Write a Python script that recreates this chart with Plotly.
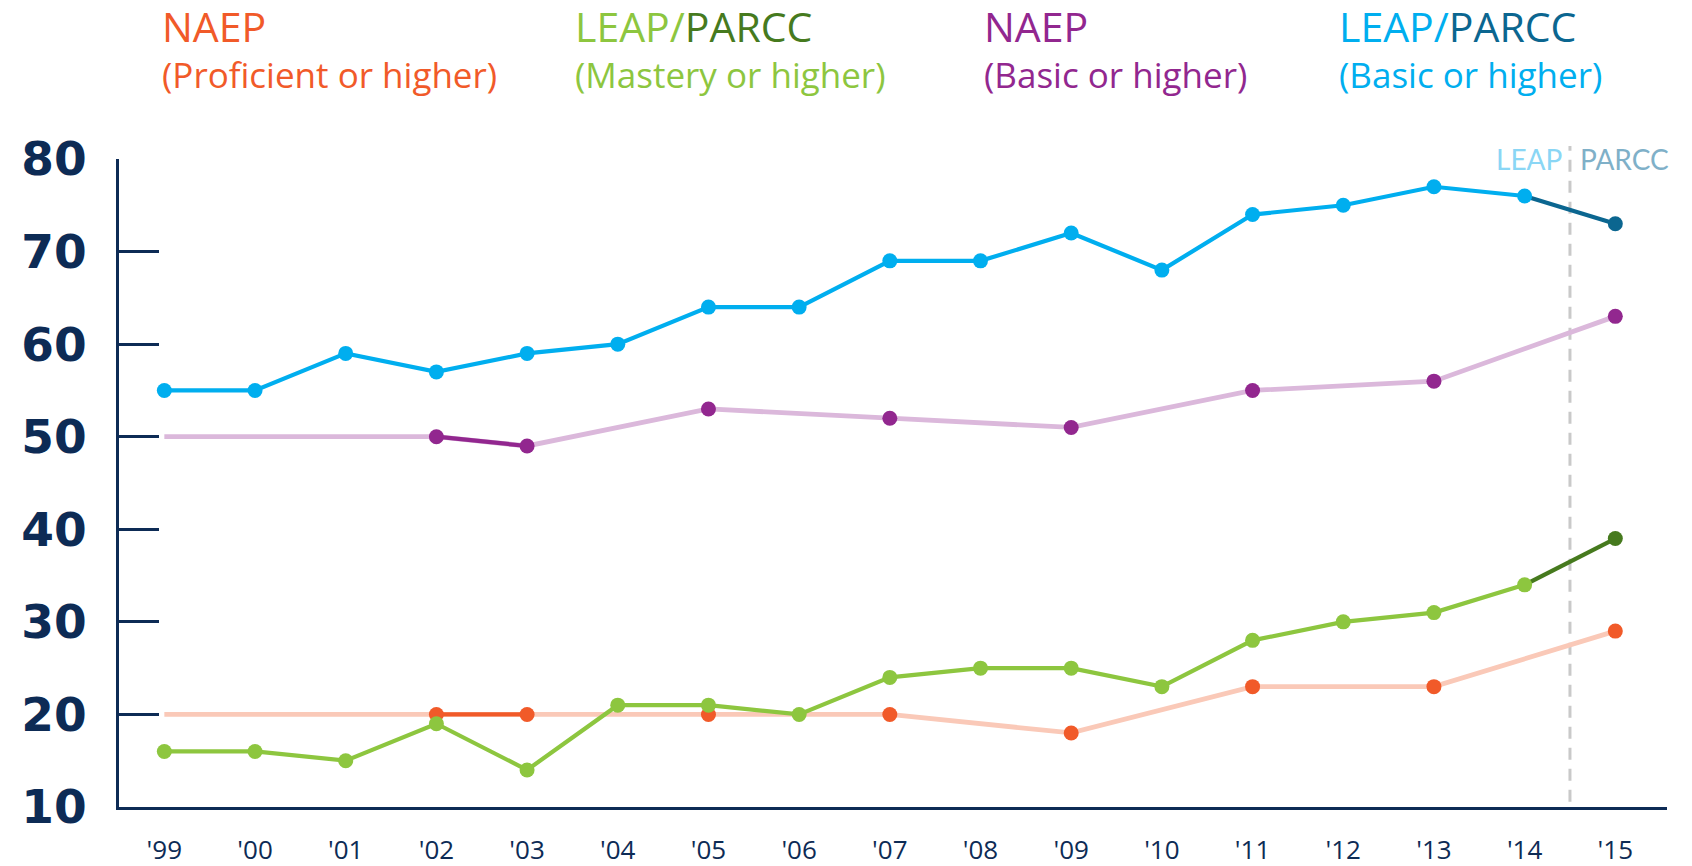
import plotly.graph_objects as go

# ---------------- data ----------------
years = ["'99", "'00", "'01", "'02", "'03", "'04", "'05", "'06", "'07",
         "'08", "'09", "'10", "'11", "'12", "'13", "'14", "'15"]

# LEAP/PARCC (Basic or higher) – every year, last value is PARCC
leap_basic = [55, 55, 59, 57, 59, 60, 64, 64, 69, 69, 72, 68, 74, 75, 77, 76, 73]
# LEAP/PARCC (Mastery or higher)
leap_mastery = [16, 16, 15, 19, 14, 21, 21, 20, 24, 25, 25, 23, 28, 30, 31, 34, 39]

# NAEP years (line begins at '99 at the '02 level; markers from '02 on)
naep_years = ["'99", "'02", "'03", "'05", "'07", "'09", "'11", "'13", "'15"]
naep_basic = [50, 50, 49, 53, 52, 51, 55, 56, 63]
naep_prof = [20, 20, 20, 20, 20, 18, 23, 23, 29]

y_ticks = [10, 20, 30, 40, 50, 60, 70, 80]

# position of each year label on the numeric x axis
pos = {y: i for i, y in enumerate(years)}
xs = [pos[y] for y in years]
nx = [pos[y] for y in naep_years]
divider = (pos["'14"] + pos["'15"]) / 2

# ---------------- styles ----------------
NAVY = "#0D2B55"
ORANGE, ORANGE_L = "#F15A29", "#FAC9B8"
GREEN, GREEN_D = "#8DC63F", "#467A1E"
PURPLE, PURPLE_L = "#92278F", "#DBB8DB"
BLUE, BLUE_D = "#00AEEF", "#0B6690"
FONT = "Open Sans"
MS = 15
LW, LW_L = 4.2, 4.8

fig = go.Figure()

def line(x, y, color, width):
    fig.add_trace(go.Scatter(x=x, y=y, mode="lines", hoverinfo="skip",
                             line=dict(color=color, width=width), showlegend=False))

def markers(x, y, color):
    fig.add_trace(go.Scatter(x=x, y=y, mode="markers", hoverinfo="skip",
                             marker=dict(color=color, size=MS), showlegend=False))

# NAEP basic (purple)
line(nx, naep_basic, PURPLE_L, LW_L)
line(nx[1:3], naep_basic[1:3], PURPLE, LW)
markers(nx[1:], naep_basic[1:], PURPLE)

# LEAP/PARCC basic (blue)
line(xs[:-1], leap_basic[:-1], BLUE, LW)
line(xs[-2:], leap_basic[-2:], BLUE_D, LW)
markers(xs[:-1], leap_basic[:-1], BLUE)
markers(xs[-1:], leap_basic[-1:], BLUE_D)

# NAEP proficient (orange)
line(nx, naep_prof, ORANGE_L, LW_L)
line(nx[1:3], naep_prof[1:3], ORANGE, LW)
markers(nx[1:], naep_prof[1:], ORANGE)

# LEAP/PARCC mastery (green)
line(xs[:-1], leap_mastery[:-1], GREEN, LW)
line(xs[-2:], leap_mastery[-2:], GREEN_D, LW)
markers(xs[:-1], leap_mastery[:-1], GREEN)
markers(xs[-1:], leap_mastery[-1:], GREEN_D)

# LEAP | PARCC divider
fig.add_shape(type="line", xref="x", yref="paper", x0=divider, x1=divider, y0=0.008, y1=1.02,
              line=dict(color="#C9C9C9", width=3, dash="12px,9px"), layer="below")
fig.add_annotation(x=divider, y=80, xref="x", yref="y", text="LEAP", showarrow=False,
                   xanchor="right", yanchor="middle", xshift=-6,
                   font=dict(family="Lato", size=28, color="#8AD6F5"))
fig.add_annotation(x=divider, y=80, xref="x", yref="y", text="PARCC", showarrow=False,
                   xanchor="left", yanchor="middle", xshift=8,
                   font=dict(family="Lato", size=28, color="#7FB0C8"))

# header legend
legend_items = [
    (0.0262, f"<span style='color:{ORANGE}'>NAEP</span>", "(Proficient or higher)", ORANGE),
    (0.2932, f"<span style='color:{GREEN}'>LEAP/</span><span style='color:{GREEN_D}'>PARCC</span>",
     "(Mastery or higher)", GREEN),
    (0.5572, f"<span style='color:{PURPLE}'>NAEP</span>", "(Basic or higher)", PURPLE),
    (0.7867, f"<span style='color:{BLUE}'>LEAP/</span><span style='color:{BLUE_D}'>PARCC</span>",
     "(Basic or higher)", BLUE),
]
for xp, top, sub, col in legend_items:
    fig.add_annotation(x=xp, y=1.206, xref="paper", yref="paper", text=top, showarrow=False,
                       xanchor="left", yanchor="middle", font=dict(family=FONT, size=41))
    fig.add_annotation(x=xp, y=1.131, xref="paper", yref="paper", text=sub, showarrow=False,
                       xanchor="left", yanchor="middle", font=dict(family=FONT, size=35, color=col))

fig.update_xaxes(range=[-0.5, 16.57], tickvals=xs, ticktext=years, automargin=False,
                 showline=True, linecolor=NAVY, linewidth=3,
                 showgrid=False, zeroline=False, ticks="", ticklabelstandoff=18,
                 tickfont=dict(family=FONT, size=26, color=NAVY))
fig.update_yaxes(range=[10, 80], tickvals=y_ticks, automargin=False,
                 showline=True, linecolor=NAVY, linewidth=3,
                 showgrid=False, zeroline=False, ticks="inside", ticklen=40, tickwidth=3,
                 tickcolor=NAVY, ticklabelstandoff=20,
                 tickfont=dict(family="DejaVu Sans", size=47, weight="bold", color=NAVY))

# the page body adds an 8px offset, so the figure is shifted by 8px in the window
fig.update_layout(width=1676, height=858, paper_bgcolor="white", plot_bgcolor="white",
                  margin=dict(l=111, r=17, t=151, b=59), showlegend=False)

fig.write_html("out.html")
